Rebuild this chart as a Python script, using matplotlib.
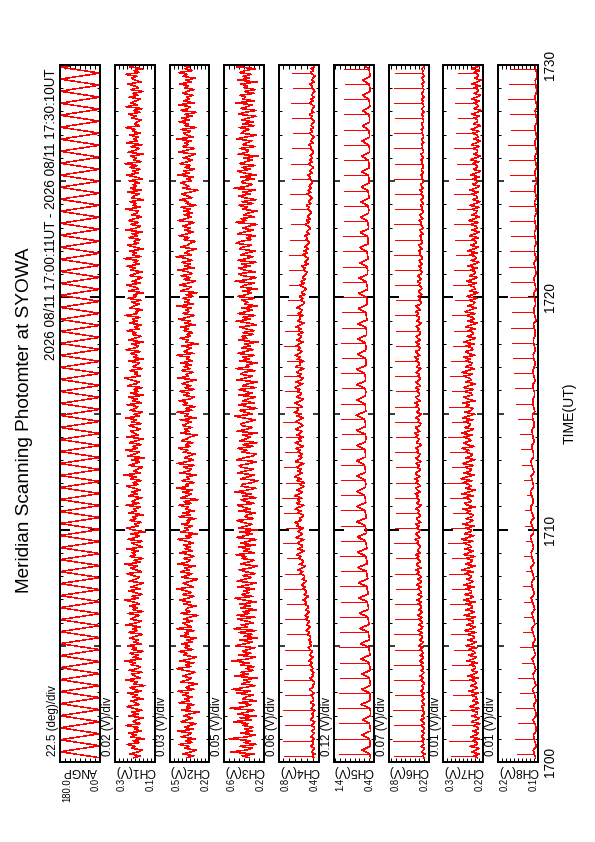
import numpy as np
import matplotlib
matplotlib.use("Agg")
import matplotlib.pyplot as plt

plt.rcParams['font.family'] = ['Liberation Sans', 'DejaVu Sans']

# record span in minutes after 17:00 UT (17:00:11 - 17:30:10)
T0 = 11 / 60
T1 = 30 + 10 / 60

# scan angle (deg), turning points of each sweep
ANGP = [0, 180, 0, 180, 0, 180, 0, 180, 0, 180, 0, 180, 0, 180, 0, 180,
        0, 180, 0, 180, 0, 180, 0, 180, 0, 180, 0, 180, 0, 180, 0, 180,
        0, 180, 0, 180, 0, 180, 0, 180, 0, 180, 0, 180, 0, 180, 0, 180,
        0, 180, 0, 180, 0, 180, 0, 180, 0, 180, 0, 180, 0, 180, 0, 180,
        0, 180, 0, 180, 0, 180, 0, 180, 0, 180, 0, 180, 0, 180, 0, 180,
        0, 180, 0, 180, 0, 180, 0, 180, 0, 180, 0, 180, 0, 180, 0, 180,
        0, 180, 0, 180, 0, 180, 0, 180, 0, 180, 0, 180, 0, 180, 0, 180,
        0, 180, 0, 180, 0]

# noisy channels in mV, 8 samples per scan
CH1 = [205, 172, 226, 188, 161, 214, 197, 239, 176, 208, 153, 221, 190, 232, 168, 199,
       184, 247, 171, 210, 193, 158, 229, 181, 216, 164, 203, 241, 177, 195, 220, 159,
       212, 186, 235, 167, 201, 224, 149, 207, 189, 243, 174, 198, 216, 162, 230, 185,
       171, 219, 196, 252, 165, 208, 183, 226, 157, 214, 192, 237, 169, 203, 181, 225,
       198, 160, 231, 187, 211, 174, 244, 192, 166, 222, 201, 179, 236, 158, 209, 188,
       226, 175, 203, 249, 182, 214, 163, 197, 230, 171, 218, 190, 155, 228, 199, 176,
       208, 238, 167, 193, 221, 185, 251, 170, 204, 159, 226, 196, 213, 180, 242, 164,
       187, 215, 162, 233, 198, 176, 219, 149, 207, 239, 184, 201, 168, 224, 193, 211,
       156, 228, 190, 205, 171, 245, 179, 214, 196, 163, 232, 188, 217, 173, 200, 241,
       182, 209, 166, 222, 194, 254, 171, 206, 187, 160, 229, 198, 176, 215, 153, 234,
       201, 178, 245, 185, 212, 167, 227, 193, 158, 238, 181, 204, 220, 170, 196, 231,
       168, 214, 190, 246, 175, 203, 161, 223, 197, 184, 240, 166, 211, 189, 228, 157,
       220, 183, 205, 162, 236, 194, 177, 215, 250, 173, 199, 185, 226, 164, 209, 192,
       176, 231, 159, 207, 188, 221, 170, 243, 196, 182, 217, 155, 230, 201, 168, 212,
       193, 240, 178, 202, 165, 226, 189, 211, 174, 248, 185, 197, 160, 223, 206, 179,
       215, 169, 234, 191, 207, 157, 229, 182, 200, 242, 172, 213, 187, 163, 225, 198,
       162, 219, 196, 238, 177, 204, 184, 253, 169, 210, 192, 226, 158, 201, 235, 181,
       206, 174, 228, 186, 213, 161, 244, 195, 171, 219, 180, 232, 199, 165, 214, 188,
       183, 247, 170, 209, 193, 226, 156, 215, 202, 178, 237, 167, 222, 191, 208, 175,
       229, 164, 198, 241, 183, 211, 172, 226, 189, 250, 168, 205, 194, 218, 159, 233,
       196, 176, 220, 163, 239, 188, 207, 181, 225, 170, 212, 198, 246, 175, 201, 186,
       167, 215, 192, 231, 174, 205, 160, 243, 187, 219, 195, 172, 228, 184, 210, 157,
       221, 180, 204, 236, 169, 197, 214, 188, 245, 176, 203, 162, 227, 193, 179, 216]
CH2 = [371, 318, 402, 345, 296, 388, 352, 427, 331, 379, 305, 412, 360, 338, 441, 322,
       389, 347, 301, 415, 366, 328, 394, 355, 279, 408, 342, 373, 315, 430, 351, 384,
       326, 398, 361, 437, 312, 380, 347, 292, 419, 364, 335, 403, 357, 308, 386, 445,
       340, 377, 318, 421, 353, 299, 392, 366, 428, 324, 385, 349, 410, 331, 372, 296,
       415, 357, 383, 311, 446, 338, 369, 402, 327, 391, 354, 286, 417, 345, 380, 359,
       302, 393, 346, 425, 365, 317, 404, 336, 378, 448, 321, 362, 397, 340, 289, 411,
       368, 333, 419, 352, 387, 309, 436, 374, 341, 396, 315, 359, 423, 330, 382, 347,
       395, 322, 366, 440, 337, 378, 294, 413, 356, 385, 327, 407, 349, 371, 303, 431,
       345, 402, 318, 376, 360, 429, 335, 392, 281, 418, 363, 339, 401, 326, 448, 357,
       381, 314, 409, 349, 372, 296, 424, 358, 336, 395, 311, 443, 367, 320, 389, 353,
       308, 397, 362, 434, 343, 380, 325, 411, 370, 348, 292, 416, 355, 387, 331, 404,
       373, 338, 420, 301, 389, 356, 442, 329, 381, 310, 398, 364, 427, 346, 317, 394,
       352, 425, 313, 384, 340, 405, 366, 297, 436, 359, 378, 323, 410, 347, 391, 335,
       416, 329, 371, 350, 447, 318, 394, 361, 337, 406, 283, 379, 356, 421, 341, 368,
       327, 392, 358, 413, 306, 386, 345, 432, 369, 312, 399, 353, 380, 336, 444, 319,
       384, 351, 400, 324, 375, 293, 418, 359, 339, 426, 366, 305, 392, 347, 413, 330,
       362, 437, 315, 389, 343, 408, 328, 371, 451, 334, 383, 357, 298, 419, 365, 344,
       307, 396, 352, 428, 369, 321, 386, 342, 403, 358, 316, 435, 374, 339, 390, 326,
       391, 345, 412, 299, 377, 360, 424, 333, 366, 409, 348, 287, 402, 355, 381, 418,
       336, 372, 321, 440, 353, 395, 311, 383, 342, 420, 365, 329, 397, 350, 306, 432,
       376, 313, 404, 362, 388, 337, 446, 320, 370, 394, 341, 413, 302, 385, 358, 427,
       349, 410, 331, 382, 296, 417, 363, 345, 433, 317, 391, 354, 372, 325, 401, 368,
       318, 387, 356, 422, 340, 375, 309, 398, 366, 431, 328, 384, 350, 411, 337, 363]
CH3 = [352, 421, 298, 536, 387, 316, 448, 279, 401, 335, 552, 368, 291, 437, 322, 395,
       308, 412, 363, 509, 327, 441, 284, 468, 375, 302, 545, 389, 331, 456, 277, 413,
       386, 311, 472, 336, 521, 397, 289, 428, 344, 409, 273, 498, 362, 435, 306, 381,
       299, 437, 352, 528, 374, 286, 459, 331, 418, 363, 292, 487, 395, 318, 446, 270,
       401, 324, 453, 283, 506, 366, 431, 305, 378, 469, 291, 479, 347, 412, 276, 438,
       337, 446, 281, 392, 494, 314, 428, 353, 409, 296, 463, 372, 283, 471, 398, 326,
       415, 292, 384, 451, 337, 268, 439, 362, 301, 426, 378, 487, 296, 405, 349, 452,
       288, 433, 367, 275, 476, 398, 319, 443, 265, 458, 381, 322, 419, 474, 305, 393,
       372, 286, 452, 341, 408, 469, 297, 385, 436, 279, 412, 327, 492, 370, 284, 431,
       421, 318, 263, 437, 361, 298, 466, 389, 307, 424, 451, 346, 276, 479, 402, 315,
       281, 429, 374, 462, 309, 417, 268, 446, 385, 336, 413, 272, 471, 380, 319, 427,
       433, 357, 292, 401, 497, 318, 386, 448, 274, 375, 459, 302, 411, 363, 285, 452,
       316, 384, 458, 279, 419, 362, 266, 472, 398, 321, 436, 409, 287, 483, 352, 377,
       271, 441, 349, 414, 296, 468, 393, 308, 427, 337, 395, 262, 456, 373, 428, 305,
       418, 299, 386, 447, 278, 352, 481, 341, 412, 289, 463, 385, 318, 424, 267, 399,
       364, 427, 296, 469, 381, 325, 412, 274, 438, 395, 303, 492, 351, 282, 419, 455,
       293, 406, 451, 338, 423, 276, 466, 372, 314, 437, 368, 287, 449, 412, 326, 484,
       437, 328, 379, 285, 462, 401, 306, 419, 362, 271, 488, 384, 433, 297, 405, 358,
       274, 418, 366, 457, 309, 428, 283, 396, 453, 341, 412, 292, 503, 377, 318, 426,
       411, 302, 439, 278, 395, 468, 336, 421, 289, 447, 383, 319, 406, 263, 461, 372,
       358, 446, 291, 417, 373, 324, 478, 389, 276, 431, 408, 347, 452, 298, 415, 305,
       426, 361, 284, 458, 392, 279, 436, 373, 318, 489, 297, 414, 386, 442, 303, 397,
       289, 405, 367, 436, 271, 463, 348, 411, 329, 448, 392, 285, 474, 361, 423, 332]

# spiky channels in mV: background samples, and the peak of each scan
CH4_BASE = [452, 468, 441, 475, 458, 447, 482, 461, 455, 472, 446, 480, 463, 450, 477, 444,
            449, 476, 458, 441, 484, 466, 452, 470, 457, 445, 479, 462, 448, 486, 459, 453,
            463, 481, 450, 472, 495, 458, 467, 446, 446, 474, 489, 455, 468, 451, 483, 460,
            471, 492, 466, 503, 478, 459, 497, 480, 468, 489, 510, 474, 495, 477, 502, 483,
            489, 515, 496, 528, 503, 486, 521, 507, 497, 530, 509, 541, 515, 494, 533, 511,
            512, 545, 523, 559, 531, 506, 550, 528, 531, 562, 540, 575, 548, 525, 569, 543,
            548, 591, 562, 612, 570, 537, 598, 555, 560, 603, 578, 626, 584, 546, 611, 572,
            571, 619, 589, 552, 634, 596, 563, 608, 589, 557, 624, 603, 641, 575, 597, 566,
            556, 612, 580, 638, 601, 549, 627, 590, 612, 574, 645, 598, 563, 619, 585, 552,
            593, 546, 621, 579, 642, 603, 566, 615, 577, 628, 594, 551, 636, 608, 572, 599,
            568, 614, 587, 629, 553, 601, 640, 576, 602, 559, 623, 588, 570, 637, 595, 561,
            585, 633, 597, 556, 619, 581, 648, 604, 619, 572, 606, 641, 584, 559, 627, 593,
            574, 620, 589, 643, 603, 562, 631, 582, 560, 611, 577, 624, 598, 547, 636, 587,
            597, 553, 618, 584, 639, 601, 569, 612, 583, 628, 596, 561, 622, 589, 575, 608,
            562, 607, 579, 631, 591, 548, 615, 583, 594, 556, 609, 577, 568, 622, 585, 554,
            548, 584, 562, 597, 541, 575, 553, 529, 562, 591, 544, 578, 535, 566, 549, 524,
            521, 556, 537, 571, 510, 545, 528, 503, 534, 562, 518, 549, 507, 539, 526, 498,
            502, 531, 514, 546, 495, 522, 507, 483, 511, 538, 497, 526, 488, 517, 502, 479,
            486, 512, 498, 527, 479, 505, 490, 468, 493, 519, 482, 508, 474, 499, 486, 465,
            474, 498, 485, 512, 468, 491, 479, 457, 481, 505, 470, 496, 463, 488, 475, 454,
            466, 489, 477, 503, 458, 482, 471, 450, 472, 494, 463, 486, 455, 479, 468, 447,
            459, 481, 470, 496, 452, 475, 464, 444, 468, 490, 459, 482, 450, 473, 462, 441,
            455, 476, 466, 491, 447, 470, 460, 440, 462, 485, 455, 478, 446, 469, 458, 438]
CH4_PEAK = [748, 765, 741, 758, 736, 752, 730, 744, 718, 739, 725, 748, 741, 722, 756, 733,
            747, 768, 729, 751, 742, 735, 760, 727, 738, 754, 725, 746, 739, 721, 712, 705,
            698, 703, 690, 684, 676, 688, 669, 682, 675, 661, 670, 678, 664, 672]
CH5_BASE = [478, 505, 690, 495, 486, 512, 705, 482, 491, 508, 682, 488, 476, 499, 716, 494,
            485, 503, 698, 479, 493, 515, 688, 487, 502, 521, 720, 496, 511, 530, 733, 505,
            520, 541, 745, 514, 532, 556, 758, 526, 545, 567, 770, 538, 556, 579, 782, 549,
            568, 590, 795, 560, 577, 601, 806, 571, 589, 612, 812, 582, 596, 620, 825, 590,
            603, 628, 830, 598, 611, 633, 818, 605, 598, 622, 826, 607, 615, 640, 835, 601,
            606, 630, 820, 612, 594, 617, 829, 608, 612, 637, 838, 599, 603, 626, 816, 614,
            597, 621, 824, 609, 610, 634, 831, 595, 588, 611, 810, 601, 592, 615, 803, 584,
            575, 598, 792, 569, 581, 604, 786, 573, 562, 585, 775, 555, 566, 589, 768, 558,
            549, 571, 752, 541, 553, 575, 745, 546, 535, 557, 733, 528, 540, 561, 726, 532,
            524, 546, 718, 517, 528, 550, 712, 521, 515, 536, 705, 509, 518, 539, 698, 512,
            507, 528, 690, 501, 510, 531, 686, 504, 502, 523, 682, 497, 505, 526, 679, 499,
            498, 519, 675, 494, 501, 522, 672, 496]
CH5_PEAK = [1275, 1290, 1262, 1283, 1270, 1256, 1248, 1265, 1240, 1252, 1231, 1246, 1225, 1238,
            1219, 1230, 1212, 1226, 1208, 1221, 1215, 1204, 1223, 1210, 1201, 1218, 1196, 1207,
            1188, 1195, 1180, 1172, 1168, 1175, 1160, 1152, 1147, 1155, 1142, 1136, 1148, 1139,
            1133, 1145, 1130, 1138]
CH6_BASE = [268, 292, 255, 301, 279, 262, 310, 271, 274, 298, 259, 307, 283, 265, 296, 262,
            271, 303, 263, 289, 312, 258, 295, 266, 265, 291, 277, 304, 259, 286, 299, 270,
            277, 309, 266, 321, 285, 271, 302, 263, 282, 315, 274, 329, 290, 268, 311, 275,
            286, 321, 279, 338, 297, 274, 326, 284, 291, 330, 285, 345, 303, 278, 334, 289,
            298, 337, 291, 356, 310, 286, 344, 295, 305, 348, 299, 362, 317, 291, 352, 301,
            312, 354, 305, 371, 326, 298, 360, 309, 318, 363, 311, 379, 331, 304, 368, 314,
            322, 371, 339, 396, 314, 355, 381, 330, 329, 378, 345, 390, 319, 362, 348, 325,
            335, 384, 351, 402, 326, 369, 392, 341, 327, 376, 343, 395, 316, 358, 383, 334,
            318, 365, 337, 389, 352, 311, 374, 346, 336, 382, 349, 399, 324, 366, 391, 329,
            341, 387, 356, 404, 330, 371, 395, 344, 322, 369, 338, 392, 315, 358, 385, 336,
            329, 374, 347, 397, 336, 311, 381, 352, 344, 390, 358, 406, 331, 372, 398, 327,
            315, 361, 334, 386, 348, 309, 377, 339, 338, 384, 351, 401, 327, 366, 394, 332,
            332, 378, 345, 393, 321, 360, 386, 337, 320, 366, 334, 389, 351, 312, 379, 342,
            341, 389, 354, 403, 329, 370, 396, 338, 327, 372, 341, 393, 318, 359, 386, 333,
            319, 362, 335, 384, 346, 308, 373, 340, 335, 379, 349, 398, 325, 364, 389, 318,
            306, 344, 322, 361, 297, 335, 352, 301, 311, 349, 326, 366, 302, 338, 357, 305,
            297, 331, 313, 347, 289, 322, 340, 293, 300, 336, 316, 352, 292, 327, 344, 296,
            288, 319, 303, 334, 281, 311, 327, 284, 292, 324, 307, 339, 284, 315, 331, 287,
            281, 308, 295, 322, 276, 301, 316, 278, 285, 313, 298, 327, 279, 305, 319, 281,
            278, 302, 290, 315, 272, 296, 309, 275, 280, 305, 292, 318, 274, 298, 312, 276,
            275, 297, 286, 309, 270, 291, 303, 272, 277, 299, 288, 312, 271, 293, 306, 273,
            273, 294, 283, 305, 268, 288, 299, 270, 276, 297, 285, 308, 270, 290, 302, 272,
            271, 291, 280, 301, 266, 285, 296, 268, 274, 294, 282, 304, 268, 287, 299, 270]
CH6_PEAK = [722, 735, 716, 728, 709, 724, 712, 706, 718, 701, 710, 695, 704, 690, 712, 698,
            686, 707, 694, 681, 703, 688, 697, 710, 684, 699, 706, 691, 688, 702, 695, 708,
            701, 714, 706, 712, 698, 709, 715, 703, 711, 720, 707, 716, 712, 705]
CH7_BASE = [214, 224, 209, 229, 218, 211, 233, 215, 216, 227, 210, 231, 219, 212, 226, 213,
            213, 225, 208, 230, 217, 210, 228, 214, 215, 229, 211, 234, 220, 212, 227, 216,
            217, 230, 212, 236, 221, 214, 232, 218, 219, 233, 213, 238, 223, 215, 230, 220,
            220, 234, 215, 241, 225, 217, 237, 221, 222, 237, 216, 243, 227, 218, 239, 223,
            224, 239, 218, 246, 229, 220, 242, 225, 226, 241, 219, 248, 231, 222, 244, 227,
            228, 243, 221, 250, 233, 224, 246, 229, 230, 245, 223, 249, 234, 226, 241, 231,
            231, 247, 225, 253, 236, 220, 244, 232, 227, 243, 221, 249, 237, 224, 246, 230,
            234, 249, 226, 255, 238, 223, 247, 233, 229, 245, 222, 251, 235, 225, 243, 228,
            225, 242, 233, 252, 219, 238, 247, 229, 232, 248, 224, 254, 236, 221, 245, 230,
            236, 251, 228, 256, 240, 223, 248, 233, 230, 246, 224, 252, 237, 221, 244, 229,
            228, 245, 236, 253, 222, 240, 249, 231, 235, 250, 227, 255, 239, 224, 247, 232,
            233, 248, 226, 252, 237, 221, 246, 230, 226, 243, 235, 251, 220, 239, 248, 228,
            230, 246, 224, 250, 236, 219, 243, 229, 234, 249, 227, 253, 238, 222, 245, 231,
            227, 243, 233, 249, 221, 237, 245, 226, 229, 244, 223, 248, 234, 219, 241, 227,
            224, 239, 219, 245, 230, 215, 238, 223, 226, 241, 221, 246, 231, 217, 239, 224,
            221, 235, 216, 241, 226, 213, 234, 220, 223, 237, 217, 242, 228, 214, 235, 221,
            219, 232, 214, 238, 223, 211, 231, 218, 220, 233, 215, 239, 225, 212, 232, 219,
            217, 229, 212, 235, 221, 209, 228, 216, 218, 231, 213, 236, 222, 210, 229, 217,
            216, 227, 211, 233, 219, 208, 226, 215, 217, 229, 212, 234, 220, 209, 227, 216,
            215, 226, 210, 231, 218, 207, 225, 214, 216, 227, 211, 232, 219, 208, 225, 215,
            214, 225, 209, 230, 217, 207, 224, 213, 215, 226, 210, 231, 218, 207, 224, 214,
            214, 224, 209, 229, 216, 206, 223, 213, 214, 225, 209, 230, 217, 207, 223, 213,
            213, 223, 208, 228, 216, 206, 222, 212, 214, 224, 209, 229, 216, 206, 222, 213]
CH7_PEAK = [281, 286, 279, 284, 276, 283, 278, 272, 280, 275, 283, 277, 286, 279, 289, 281,
            276, 284, 290, 278, 282, 287, 279, 285, 277, 283, 281, 276, 274, 279, 270, 276,
            273, 268, 271, 274, 266, 272, 269, 265, 272, 267, 264, 270, 268, 263]
CH8_BASE = [106, 109, 112, 104, 107, 110, 111, 105, 105, 108, 113, 104, 106, 109, 110, 105,
            107, 110, 114, 105, 108, 111, 112, 106, 108, 111, 115, 106, 109, 112, 113, 107,
            110, 113, 116, 108, 110, 113, 115, 108, 111, 114, 117, 109, 112, 115, 116, 110,
            112, 115, 118, 110, 113, 116, 117, 111, 113, 116, 119, 111, 112, 115, 118, 110,
            114, 117, 118, 112, 113, 116, 119, 111, 112, 115, 117, 110, 113, 116, 118, 111,
            111, 114, 116, 109, 112, 114, 115, 110, 110, 113, 114, 108, 111, 113, 113, 109,
            109, 112, 113, 107, 110, 112, 112, 108, 108, 111, 112, 106, 109, 111, 111, 107,
            107, 110, 111, 105, 108, 110, 110, 106, 107, 109, 110, 105, 107, 109, 110, 105,
            106, 108, 110, 104, 107, 109, 109, 105, 106, 108, 109, 104, 106, 108, 109, 104,
            105, 107, 109, 103, 106, 108, 108, 104, 105, 107, 108, 103, 105, 107, 108, 103,
            105, 107, 108, 103, 105, 107, 107, 103, 104, 106, 107, 102, 105, 107, 107, 103,
            104, 106, 107, 102, 104, 106, 106, 102]
CH8_PEAK = [152, 158, 149, 155, 146, 150, 141, 145, 138, 136, 134, 137, 131, 135, 129, 133,
            132, 128, 135, 139, 142, 146, 150, 155, 158, 161, 163, 166, 168, 165, 170, 167,
            172, 169, 168, 171, 173, 170, 169, 172, 174, 168, 171, 175, 172, 169]

names = ["ANGP", "CH1(V)", "CH2(V)", "CH3(V)", "CH4(V)", "CH5(V)", "CH6(V)", "CH7(V)", "CH8(V)"]
div_labels = ["22.5 (deg)/div", "0.02 (V)/div", "0.03 (V)/div", "0.05 (V)/div", "0.06 (V)/div",
              "0.12 (V)/div", "0.07 (V)/div", "0.01 (V)/div", "0.01 (V)/div"]
hi_labels = ["180.0", "0.3", "0.5", "0.6", "0.8", "1.4", "0.8", "0.3", "0.2"]
lo_labels = ["0.0", "0.1", "0.2", "0.2", "0.4", "0.4", "0.2", "0.2", "0.1"]
hi_vals = [180, 0.3, 0.5, 0.6, 0.8, 1.4, 0.8, 0.3, 0.2]
lo_vals = [0, 0.1, 0.2, 0.2, 0.4, 0.4, 0.2, 0.2, 0.1]
div_vals = [22.5, 0.02, 0.03, 0.05, 0.06, 0.12, 0.07, 0.01, 0.01]
time_ticks = [0, 10, 20, 30]
time_labels = ["1700", "1710", "1720", "1730"]

series = [np.array(ANGP, float)] + [np.array(c, float) / 1000 for c in
                                    [CH1, CH2, CH3, CH4_BASE, CH5_BASE, CH6_BASE,
                                     CH7_BASE, CH8_BASE]]
peaks = [None, None, None, None] + [np.array(p, float) / 1000 for p in
                                    [CH4_PEAK, CH5_PEAK, CH6_PEAK, CH7_PEAK, CH8_PEAK]]

W, H = 595, 842
fig = plt.figure(figsize=(W / 72, H / 72), dpi=72)
RED = '#ff0000'

# layout in pixels
x0, step, pw = 60, 54.75, 40
ytop, ybot = 65, 762
ax_b = 1 - ybot / H
ax_h = (ybot - ytop) / H

fig.text(25 / W, 1 - 420 / H, "Meridian Scanning Photomter at SYOWA", rotation=90,
         ha='center', va='center', fontsize=19)
fig.text(51 / W, 1 - 68 / H, "2026 08/11 17:00:11UT - 2026 08/11 17:30:10UT", rotation=90,
         ha='center', va='top', fontsize=13.5)

for i, vals in enumerate(series):
    left = x0 + i * step
    ax = fig.add_axes([left / W, ax_b, pw / W, ax_h])
    t = np.linspace(T0, T1, len(vals))
    ax.plot(vals, t, color=RED, lw=0.5, antialiased=False)
    if peaks[i] is not None:
        # spike of each scan, from the background sample out to the peak
        k = len(vals) // len(peaks[i])
        ax.hlines(t[1::k], vals[1::k], peaks[i], colors=RED, lw=0.5, antialiased=False)
    ax.set_xlim(hi_vals[i], lo_vals[i])
    ax.set_ylim(0, 30)
    ax.set_xticks(np.arange(lo_vals[i], hi_vals[i] + 1e-9, div_vals[i]))
    ax.tick_params(axis='x', direction='in', length=4, width=1, top=True, bottom=True,
                   labelbottom=False)
    ax.set_yticks(np.arange(0, 31, 5))
    ax.set_yticks(np.arange(0, 31, 1), minor=True)
    ax.tick_params(axis='y', which='major', direction='in', length=6, width=1.5,
                   left=True, right=True, labelleft=False)
    ax.tick_params(axis='y', which='minor', direction='in', length=3, width=1,
                   left=True, right=True)
    for tick, loc in zip(ax.yaxis.get_major_ticks(), ax.get_yticks()):
        if loc % 10 == 0:
            tick.tick1line.set_markersize(10)
            tick.tick2line.set_markersize(10)
            tick.tick1line.set_markeredgewidth(2)
            tick.tick2line.set_markeredgewidth(2)
    for sp in ax.spines.values():
        sp.set_linewidth(2)

    fig.text((left - 7) / W, 1 - 756 / H, div_labels[i], rotation=90,
             ha='center', va='bottom', fontsize=11.5)
    fig.text((left + pw / 2) / W, 1 - 771 / H, names[i], rotation=180,
             ha='center', va='center', fontsize=12)
    fig.text((left + 7) / W, 1 - 778 / H, hi_labels[i], rotation=90,
             ha='center', va='top', fontsize=9.5)
    fig.text((left + pw - 4) / W, 1 - 778 / H, lo_labels[i], rotation=90,
             ha='center', va='top', fontsize=9.5)

for tt, lab in zip(time_ticks, time_labels):
    fig.text(550 / W, ax_b + ax_h * tt / 30, lab, rotation=90,
             ha='center', va='center', fontsize=13.5)
fig.text(570 / W, 1 - 413 / H, "TIME(UT)", rotation=90, ha='center', va='center', fontsize=14)

fig.savefig("out.png", dpi=72)
